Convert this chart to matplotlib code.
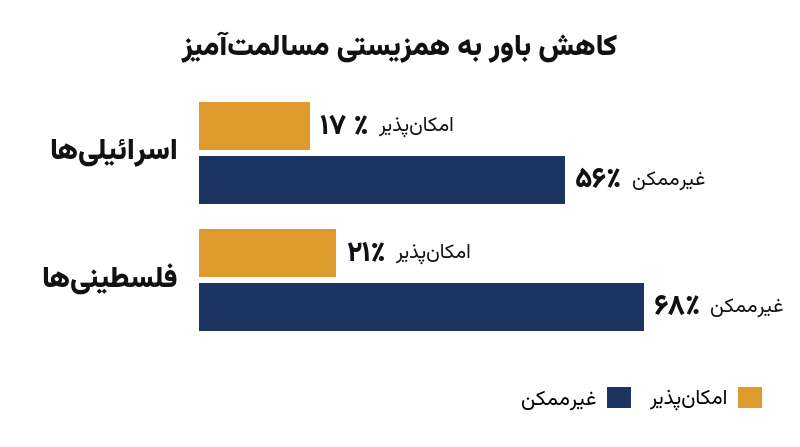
import matplotlib
matplotlib.use('Agg')
import matplotlib.pyplot as plt
from matplotlib import font_manager as fm
from matplotlib.font_manager import FontProperties
from fontTools.ttLib import TTFont

# data
title = "کاهش باور به همزیستی مسالمت‌آمیز"
groups = ["اسرائیلی‌ها", "فلسطینی‌ها"]
series = ["امکان‌پذیر", "غیرممکن"]
possible = [17, 21]
impossible = [56, 68]
possible_labels = ["۱۷ ٪", "۲۱٪"]
impossible_labels = ["۵۶٪", "۶۸٪"]
colors = ["#DF9A2E", "#1C3461"]

# --- minimal arabic/persian shaping (no reshaper lib available) ---
FORMS = {
    'ا': (0xFE8D, 0xFE8E), 'آ': (0xFE81, 0xFE82), 'د': (0xFEA9, 0xFEAA),
    'ذ': (0xFEAB, 0xFEAC), 'ر': (0xFEAD, 0xFEAE), 'ز': (0xFEAF, 0xFEB0),
    'ژ': (0xFB8A, 0xFB8B), 'و': (0xFEED, 0xFEEE),
    'ب': (0xFE8F, 0xFE90, 0xFE91, 0xFE92), 'پ': (0xFB56, 0xFB57, 0xFB58, 0xFB59),
    'ت': (0xFE95, 0xFE96, 0xFE97, 0xFE98), 'س': (0xFEB1, 0xFEB2, 0xFEB3, 0xFEB4),
    'ش': (0xFEB5, 0xFEB6, 0xFEB7, 0xFEB8), 'ط': (0xFEC1, 0xFEC2, 0xFEC3, 0xFEC4),
    'غ': (0xFECD, 0xFECE, 0xFECF, 0xFED0), 'ف': (0xFED1, 0xFED2, 0xFED3, 0xFED4),
    'ک': (0xFB8E, 0xFB8F, 0xFB90, 0xFB91), 'ل': (0xFEDD, 0xFEDE, 0xFEDF, 0xFEE0),
    'م': (0xFEE1, 0xFEE2, 0xFEE3, 0xFEE4), 'ن': (0xFEE5, 0xFEE6, 0xFEE7, 0xFEE8),
    'ه': (0xFEE9, 0xFEEA, 0xFEEB, 0xFEEC), 'ی': (0xFBFC, 0xFBFD, 0xFBFE, 0xFBFF),
    'ئ': (0xFE89, 0xFE8A, 0xFE8B, 0xFE8C),
}
LAMALEF = {'ا': (0xFEFB, 0xFEFC), 'آ': (0xFEF5, 0xFEF6)}


def dual(c):
    return c in FORMS and len(FORMS[c]) == 4


def fa(text):
    out = []
    i = 0
    n = len(text)
    while i < n:
        c = text[i]
        if c not in FORMS:
            if c != '\u200c':
                out.append(c)
            i += 1
            continue
        prev = text[i - 1] if i > 0 else ''
        nxt = text[i + 1] if i + 1 < n else ''
        jp = dual(prev)
        if c == 'ل' and nxt in LAMALEF:
            out.append(chr(LAMALEF[nxt][1 if jp else 0]))
            i += 2
            continue
        jn = dual(c) and nxt in FORMS
        f = FORMS[c]
        if jp and jn:
            out.append(chr(f[3]))
        elif jp:
            out.append(chr(f[1]))
        elif jn:
            out.append(chr(f[2]))
        else:
            out.append(chr(f[0]))
        i += 1
    return ''.join(out[::-1])


# --- fonts: Vazirmatn variable font, cut static weights from it ---
vpath = fm.findfont(FontProperties(family='Vazirmatn'))


def weight_font(w, name):
    try:
        from fontTools.varLib import instancer
        f = TTFont(vpath)
        if 'fvar' in f:
            inst = instancer.instantiateVariableFont(f, {'wght': w})
            inst.save(name)
            return name
    except Exception:
        pass
    return vpath


reg_file = weight_font(400, 'vazir_400.ttf')
bold_file = weight_font(800, 'vazir_800.ttf')
black_file = weight_font(900, 'vazir_900.ttf')


def reg(size):
    return FontProperties(fname=reg_file, size=size)


def bold(size):
    return FontProperties(fname=bold_file, size=size)


def black(size):
    return FontProperties(fname=black_file, size=size)


W, H = 800, 447
fig = plt.figure(figsize=(8, 4.47), dpi=100)

# axes placed in pixels: left 199, top 90, right 780, bottom 340
ax = fig.add_axes([199 / W, 1 - 340 / H, (780 - 199) / W, 250 / H])
ax.set_xlim(0, (780 - 199) / 6.54)
ax.set_ylim(1.474, -0.494)
ax.axis('off')

y = [0, 1]
off = 0.213
h = 0.375
ax.barh([v - off for v in y], possible, height=h, color=colors[0], label=fa(series[0]))
ax.barh([v + off for v in y], impossible, height=h, color=colors[1], label=fa(series[1]))

for vals, labs, sgn in [(possible, possible_labels, -1), (impossible, impossible_labels, 1)]:
    for i, (v, lab) in enumerate(zip(vals, labs)):
        yy = y[i] + sgn * off
        t = ax.annotate(lab, xy=(v, yy), xytext=(7, 0), textcoords='offset points',
                        va='center', ha='left', fontproperties=bold(20.5), color='#111111')
        ax.annotate(fa(series[0] if sgn < 0 else series[1]), xy=(1, 0.45), xycoords=t,
                    xytext=(7, 0), textcoords='offset points', va='center', ha='left',
                    fontproperties=reg(14.5), color='#111111')

for i, g in enumerate(groups):
    fig.text(178 / W, 1 - (152 + 127 * i) / H, fa(g), ha='right', va='center',
             fontproperties=black(21), color='#111111')

fig.text(0.5, 1 - 47 / H, fa(title), ha='center', va='center',
         fontproperties=black(21), color='#111111')

handles, labels = ax.get_legend_handles_labels()
fig.legend(handles[::-1], labels[::-1], loc='center right', bbox_to_anchor=(781 / W, 1 - 399 / H),
           ncol=2, markerfirst=False, frameon=False, prop=reg(15),
           handlelength=1.15, handleheight=1.15, handletextpad=0.5, columnspacing=0.9)

fig.savefig('out.png', dpi=100)
